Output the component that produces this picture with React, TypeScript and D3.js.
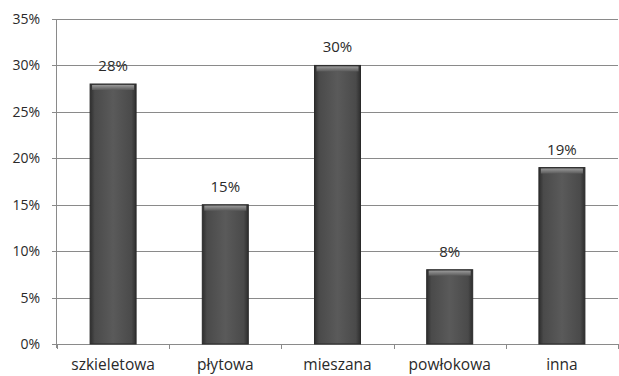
import React, { useEffect, useRef } from "react";
import * as d3 from "d3";

const categories = ["szkieletowa", "płytowa", "mieszana", "powłokowa", "inna"];
const values = [28, 15, 30, 8, 19];
const yTicks = [0, 5, 10, 15, 20, 25, 30, 35];

const W = 619;
const H = 376;

function App() {
  const svgRef = useRef<SVGSVGElement>(null);

  useEffect(() => {
    const margin = { top: 19, right: 1, bottom: 32, left: 57 };
    const svg = d3.select(svgRef.current);
    svg.selectAll("*").remove();

    const font = "'Open Sans', Lato, sans-serif";

    const defs = svg.append("defs");
    const grad = defs.append("linearGradient").attr("id", "barGrad")
      .attr("x1", "0").attr("x2", "1").attr("y1", "0").attr("y2", "0");
    grad.append("stop").attr("offset", "0%").attr("stop-color", "#2e2e2e");
    grad.append("stop").attr("offset", "10%").attr("stop-color", "#4a4a4a");
    grad.append("stop").attr("offset", "50%").attr("stop-color", "#5a5a5a");
    grad.append("stop").attr("offset", "90%").attr("stop-color", "#4a4a4a");
    grad.append("stop").attr("offset", "100%").attr("stop-color", "#2e2e2e");
    const top = defs.append("linearGradient").attr("id", "topGrad")
      .attr("x1", "0").attr("x2", "0").attr("y1", "0").attr("y2", "1");
    top.append("stop").attr("offset", "0%").attr("stop-color", "#999");
    top.append("stop").attr("offset", "100%").attr("stop-color", "#5a5a5a");

    const x = d3.scaleBand<string>()
      .domain(categories)
      .range([margin.left, W - margin.right])
      .paddingInner(0.59)
      .paddingOuter(0.295);

    const y = d3.scaleLinear()
      .domain([0, 35])
      .range([H - margin.bottom, margin.top]);

    // gridlines
    svg.append("g")
      .selectAll("line")
      .data(yTicks)
      .join("line")
      .attr("x1", margin.left - 5)
      .attr("x2", W - margin.right)
      .attr("y1", d => Math.round(y(d)) + 0.5)
      .attr("y2", d => Math.round(y(d)) + 0.5)
      .attr("stroke", "#8a8a8a")
      .attr("stroke-width", 1);

    // y axis line
    svg.append("line")
      .attr("x1", margin.left - 0.5).attr("x2", margin.left - 0.5)
      .attr("y1", y(35)).attr("y2", y(0) + 4)
      .attr("stroke", "#8a8a8a");

    // x ticks between categories
    const step = x.step();
    const edges = d3.range(categories.length + 1).map(i => margin.left + i * step);
    svg.append("g")
      .selectAll("line")
      .data(edges)
      .join("line")
      .attr("x1", d => Math.round(d) + 0.5)
      .attr("x2", d => Math.round(d) + 0.5)
      .attr("y1", y(0))
      .attr("y2", y(0) + 5)
      .attr("stroke", "#8a8a8a");

    // y labels
    svg.append("g")
      .selectAll("text")
      .data(yTicks)
      .join("text")
      .attr("x", 40)
      .attr("y", d => y(d) + 5)
      .attr("text-anchor", "end")
      .attr("font-family", font)
      .attr("font-size", 14)
      .attr("fill", "#2a2a2a")
      .text(d => `${d}%`);

    // bars
    const bars = svg.append("g")
      .selectAll("g")
      .data(values)
      .join("g");
    bars.append("rect")
      .attr("x", (d, i) => x(categories[i])!)
      .attr("y", d => y(d))
      .attr("width", x.bandwidth())
      .attr("height", d => y(0) - y(d))
      .attr("fill", "url(#barGrad)")
      .attr("stroke", "#2a2a2a")
      .attr("stroke-width", 1);
    bars.append("rect")
      .attr("x", (d, i) => x(categories[i])! + 2)
      .attr("y", d => y(d) + 1)
      .attr("width", x.bandwidth() - 4)
      .attr("height", 5)
      .attr("fill", "url(#topGrad)");

    // value labels
    svg.append("g")
      .selectAll("text")
      .data(values)
      .join("text")
      .attr("x", (d, i) => x(categories[i])! + x.bandwidth() / 2)
      .attr("y", d => y(d) - 13)
      .attr("text-anchor", "middle")
      .attr("font-family", font)
      .attr("font-size", 15)
      .attr("fill", "#2a2a2a")
      .text(d => `${d}%`);

    // category labels
    svg.append("g")
      .selectAll("text")
      .data(categories)
      .join("text")
      .attr("x", d => x(d)! + x.bandwidth() / 2)
      .attr("y", H - 6)
      .attr("text-anchor", "middle")
      .attr("font-family", font)
      .attr("font-size", 15.5)
      .attr("fill", "#2a2a2a")
      .text(d => d);
  }, []);

  return (
    <svg ref={svgRef} width={W} height={H}
      style={{ position: "absolute", left: 0, top: 0, background: "#fff" }} />
  );
}

export default App;
